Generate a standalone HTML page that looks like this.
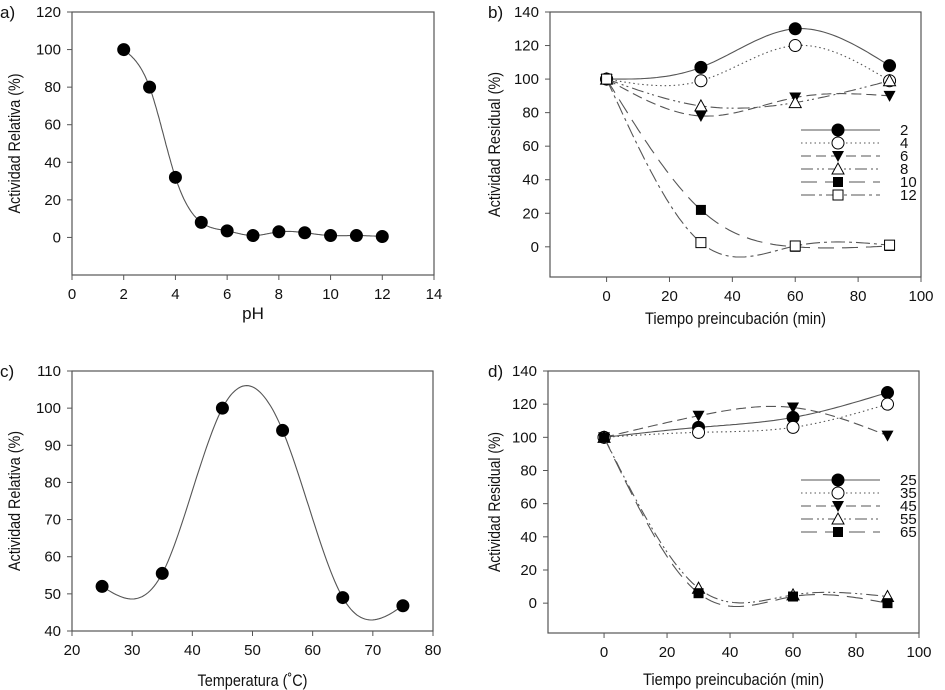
<!DOCTYPE html>
<html><head><meta charset="utf-8"><style>
html,body{margin:0;padding:0;background:#fff;}
svg{display:block;font-family:"Liberation Sans",Arial,sans-serif;}
.tk{font-size:15px;fill:#111;}
.ti{font-size:17px;fill:#111;}
</style></head><body>
<svg id="fig" width="945" height="690" viewBox="0 0 945 690" xmlns="http://www.w3.org/2000/svg"></svg>
<script>
// Panel a data
const phX = [2,3,4,5,6,7,8,9,10,11,12];
const phY = [100,80,32,8,3.5,1,3,2.5,1,1,0.5];
// Panel c data
const tempX = [25,35,45,55,65,75];
const tempY = [52,55.5,100,94,49,46.8];
// Panel b data
const timeX = [0,30,60,90];
const bLabels = ["2","4","6","8","10","12"];
const b2 = [100,107,130,108];
const b4 = [100,99,120,99];
const b6 = [100,78,89,90];
const b8 = [100,84,86,99];
const b10 = [100,22,0,0.5];
const b12 = [100,2.5,0.5,1];
// Panel d data
const dLabels = ["25","35","45","55","65"];
const d25 = [100,106,112,127];
const d35 = [100,103,106,120];
const d45 = [100,113,118,101];
const d55 = [100,9,5,4];
const d65 = [100,6,4,0];
// tick labels
const aXTicks = [0,2,4,6,8,10,12,14];
const aYTicks = [0,20,40,60,80,100,120];
const bXTicks = [0,20,40,60,80,100];
const bYTicks = [0,20,40,60,80,100,120,140];
const cXTicks = [20,30,40,50,60,70,80];
const cYTicks = [40,50,60,70,80,90,100,110];

const NS="http://www.w3.org/2000/svg";
const svg=document.getElementById('fig');
function mk(tag,attrs,parent){const e=document.createElementNS(NS,tag);for(const k in attrs)e.setAttribute(k,attrs[k]);(parent||svg).appendChild(e);return e;}

function spline(xs,ys){
  const n=xs.length,h=[],a=[],l=[1],mu=[0],z=[0],c=new Array(n).fill(0),b=[],d=[];
  for(let i=0;i<n-1;i++)h.push(xs[i+1]-xs[i]);
  for(let i=1;i<n-1;i++)a[i]=3/h[i]*(ys[i+1]-ys[i])-3/h[i-1]*(ys[i]-ys[i-1]);
  for(let i=1;i<n-1;i++){l[i]=2*(xs[i+1]-xs[i-1])-h[i-1]*mu[i-1];mu[i]=h[i]/l[i];z[i]=(a[i]-h[i-1]*z[i-1])/l[i];}
  for(let j=n-2;j>=0;j--){c[j]=(j==0?0:z[j]-mu[j]*c[j+1]);b[j]=(ys[j+1]-ys[j])/h[j]-h[j]*(c[j+1]+2*c[j])/3;d[j]=(c[j+1]-c[j])/(3*h[j]);}
  const pts=[];
  for(let j=0;j<n-1;j++){for(let k=0;k<=30;k++){const t=h[j]*k/30;pts.push([xs[j]+t,ys[j]+b[j]*t+c[j]*t*t+d[j]*t*t*t]);}}
  return pts;
}

function marker(g,type,x,y){
  const s=6;let e;
  if(type==='fc'||type==='oc'){e=mk('circle',{cx:x,cy:y,r:s,fill:type==='fc'?'#000':'#fff',stroke:'#000','stroke-width':1},g);}
  else if(type==='ft'){e=mk('polygon',{points:`${x-s},${y-5} ${x+s},${y-5} ${x},${y+6}`,fill:'#000'},g);}
  else if(type==='ot'){e=mk('polygon',{points:`${x-s},${y+5} ${x+s},${y+5} ${x},${y-6}`,fill:'#fff',stroke:'#000'},g);}
  else if(type==='fs'){e=mk('rect',{x:x-5,y:y-5,width:10,height:10,fill:'#000'},g);}
  else {e=mk('rect',{x:x-5,y:y-5,width:10,height:10,fill:'#fff',stroke:'#000'},g);}
  
  
}

function panel(o){
  const g=mk('g',{});
  
  
  const sx=v=>o.L+(v-o.x0)/(o.x1-o.x0)*(o.R-o.L);
  const sy=v=>o.B-(v-o.y0)/(o.y1-o.y0)*(o.B-o.T);
  const fr=mk('rect',{x:o.L,y:o.T,width:o.R-o.L,height:o.B-o.T,fill:'none',stroke:'#555','stroke-width':1.2},g);
  
  o.xt.forEach(v=>{const x=sx(v);mk('line',{x1:x,x2:x,y1:o.B,y2:o.B+5,stroke:'#555'},g);
    const t=mk('text',{x:x,y:o.B+24,'text-anchor':'middle',class:'tk'},g);t.textContent=v;
    });
  o.yt.forEach(v=>{const y=sy(v);mk('line',{x1:o.L-5,x2:o.L,y1:y,y2:y,stroke:'#555'},g);
    const t=mk('text',{x:o.L-11,y:y+5,'text-anchor':'end',class:'tk'},g);t.textContent=v;
    });
  const xa={x:(o.L+o.R)/2,y:o.xty,'text-anchor':'middle',class:'ti'};
  if(o.xtl){xa.textLength=o.xtl;xa.lengthAdjust='spacingAndGlyphs';}
  const xt=mk('text',xa,g);xt.textContent=o.xtitle;
  
  const yc=(o.T+o.B)/2;
  const yt=mk('text',{x:0,y:0,'text-anchor':'middle',class:'ti',textLength:o.ytl,lengthAdjust:'spacingAndGlyphs',transform:`translate(${o.ytx},${yc}) rotate(-90)`},g);yt.textContent=o.ytitle;
  
  const pl=mk('text',{x:o.plx,y:o.T+6,class:'ti'},g);pl.textContent=o.label;
  
  o.series.forEach((s,i)=>{
    const pts=spline(s.x,s.y);
    const p=mk('path',{d:pts.map((p,k)=>(k?'L':'M')+sx(p[0]).toFixed(1)+','+sy(p[1]).toFixed(1)).join(''),fill:'none',stroke:'#555','stroke-width':1.1,'stroke-dasharray':s.dash||'none'},g);
    
    s.x.forEach((xv,k)=>marker(g,s.m,sx(xv),sy(s.y[k])));
    if(o.legend){
      const ly=o.legend.y+i*13;
      const lg=mk('g',{},g);
      
      mk('line',{x1:o.legend.x,x2:o.legend.x+79,y1:ly,y2:ly,stroke:'#555','stroke-width':1.1,'stroke-dasharray':s.dash||'none'},lg);
      marker(lg,s.m,o.legend.x+37,ly);
      const t=mk('text',{x:o.legend.x+99,y:ly+5,class:'tk','font-size':'14px'},lg);t.textContent=s.label;
    }
  });
}

const dashes=['', '1.5,3', '10,5', '12,4,2,3,2,4', '16,8', '14,4,3,4'];
const mks=['fc','oc','ft','ot','fs','os'];
panel({name:'panel-a-ph-activity',L:72,R:434,T:12,B:275,x0:0,x1:14,y0:-20,y1:120,xt:aXTicks,yt:aYTicks,
  xtitle:'pH',xty:319,ytitle:'Actividad Relativa (%)',ytl:140,ytx:20,plx:0,label:'a)',
  series:[{x:phX,y:phY,m:'fc'}]});
const bS=[b2,b4,b6,b8,b10,b12];
panel({name:'panel-b-ph-stability',L:550,R:921,T:12,B:277,x0:-18,x1:100,y0:-18,y1:140,xt:bXTicks,yt:bYTicks,
  xtitle:'Tiempo preincubación (min)',xtl:181,xty:324,ytitle:'Actividad Residual (%)',ytl:145,ytx:500,plx:488,label:'b)',
  legend:{x:801,y:130},
  series:bS.map((y,i)=>({x:timeX,y:y,m:mks[i],dash:dashes[i],label:bLabels[i]}))});
panel({name:'panel-c-temperature-activity',L:72,R:433,T:371,B:631,x0:20,x1:80,y0:40,y1:110,xt:cXTicks,yt:cYTicks,
  xtitle:'Temperatura (˚C)',xtl:110,xty:686,ytitle:'Actividad Relativa (%)',ytl:140,ytx:20,plx:0,label:'c)',
  series:[{x:tempX,y:tempY,m:'fc'}]});
const dS=[d25,d35,d45,d55,d65];
const dm=['fc','oc','ft','ot','fs'];
panel({name:'panel-d-temperature-stability',L:548,R:919,T:371,B:633,x0:-17.8,x1:100,y0:-18,y1:140,xt:bXTicks,yt:bYTicks,
  xtitle:'Tiempo preincubación (min)',xtl:181,xty:685,ytitle:'Actividad Residual (%)',ytl:140,ytx:500,plx:488,label:'d)',
  legend:{x:801,y:480},
  series:dS.map((y,i)=>({x:timeX,y:y,m:dm[i],dash:dashes[i],label:dLabels[i]}))});
</script>
</body></html>
